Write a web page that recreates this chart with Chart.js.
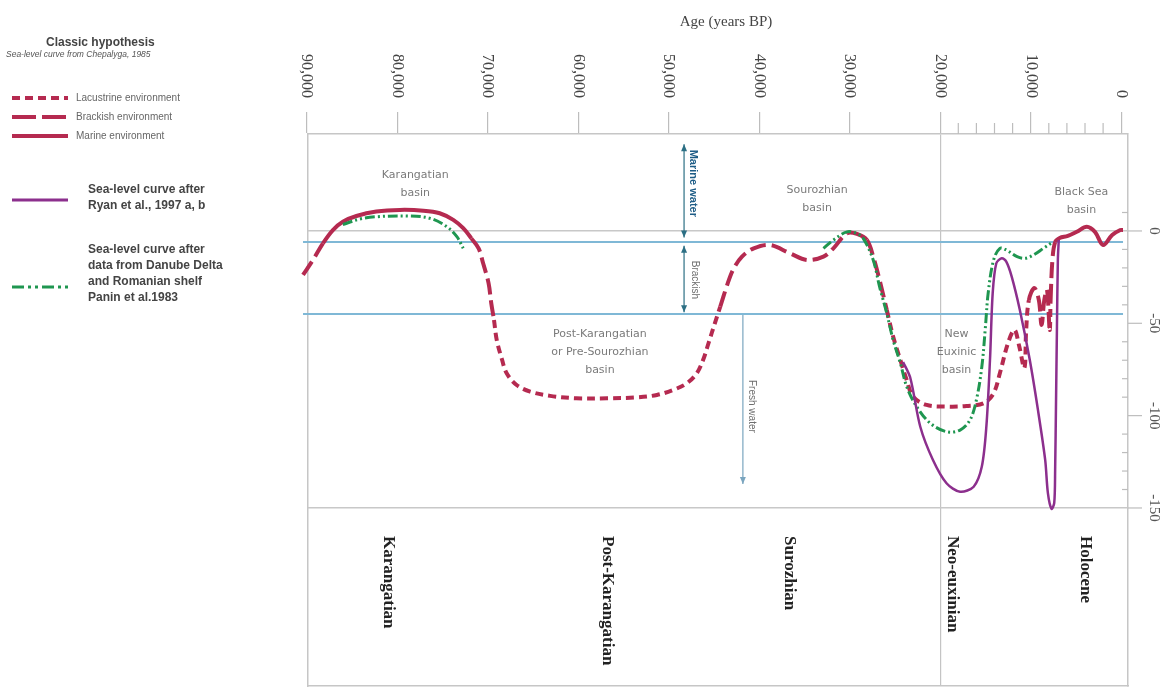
<!DOCTYPE html>
<html>
<head>
<meta charset="utf-8">
<title>Black Sea sea-level curves</title>
<script src="https://cdn.jsdelivr.net/npm/chart.js@4.4.1/dist/chart.umd.min.js"></script>
<style>
  html, body { margin: 0; padding: 0; background: #fff; }
  #wrap { position: relative; width: 1163px; height: 691px; overflow: hidden; }
  #chart { position: absolute; left: 0; top: 0; }
  #legend { position: absolute; left: 0; top: 0; width: 300px; height: 320px;
            font-family: "Liberation Sans", Arial, sans-serif; color: #555; }
  #legend div { position: absolute; white-space: nowrap; }
  #legend svg { position: absolute; left: 0; top: 0; }
  .lg-title { font-weight: bold; font-size: 12px; color: #444; }
  .lg-sub { font-style: italic; font-size: 8.5px; color: #555; }
  .lg-env { font-size: 10px; color: #666; }
  .lg-big { font-weight: bold; font-size: 12px; color: #444; line-height: 16px; }
</style>
</head>
<body>
<div id="wrap">
  <canvas id="chart" width="1163" height="691"></canvas>
  <div id="legend">
    <svg width="80" height="320">
      <line x1="12" y1="98" x2="68" y2="98" stroke="#b52a50" stroke-width="4" stroke-dasharray="8 5"/>
      <line x1="12" y1="117" x2="68" y2="117" stroke="#b52a50" stroke-width="4" stroke-dasharray="24 6"/>
      <line x1="12" y1="136" x2="68" y2="136" stroke="#b52a50" stroke-width="4"/>
      <line x1="12" y1="200" x2="68" y2="200" stroke="#8c2f8d" stroke-width="3"/>
      <line x1="12" y1="287" x2="68" y2="287" stroke="#1f9650" stroke-width="3" stroke-dasharray="12 4 3 4 3 4"/>
    </svg>
    <div class="lg-title" style="left:46px;top:35px">Classic hypothesis</div>
    <div class="lg-sub" style="left:6px;top:49px">Sea-level curve from Chepalyga, 1985</div>
    <div class="lg-env" style="left:76px;top:92px">Lacustrine environment</div>
    <div class="lg-env" style="left:76px;top:111px">Brackish environment</div>
    <div class="lg-env" style="left:76px;top:130px">Marine environment</div>
    <div class="lg-big" style="left:88px;top:181px">Sea-level curve after<br>Ryan et al., 1997 a, b</div>
    <div class="lg-big" style="left:88px;top:241px">Sea-level curve after<br>data from Danube Delta<br>and Romanian shelf<br>Panin et al.1983</div>
  </div>
</div>
<script>
// ---- data (age in years BP, level in metres) ----
const chepalygaAge = [90400, 89300, 88200, 87100, 86000, 84500, 82300, 79700, 77100, 75300,
  73800, 72700, 71800, 71000, 70500, 69900, 69600, 69300, 69000, 68400,
  67900, 66800, 65300, 63100, 60200, 56800, 53500, 51300, 49500, 48000,
  46900, 46200, 45600, 44900, 44300, 43600, 42900, 41900, 40600, 38800,
  36600, 34700, 32900, 31800, 30300, 29200, 28100, 27400, 26700, 25900,
  25200, 24400, 23700, 23000, 21500, 19300, 17100, 15200, 14100, 13400,
  12500, 11800, 11300, 10700, 10500, 10200, 9600, 9100, 8800, 8500,
  8200, 7900, 7800, 7600, 7300, 6800, 5900, 4900, 3800, 2900,
  2000, 1000, 100, -200];
const chepalygaLevel = [-23.8, -15.7, -6.7, 0.5, 5.0, 8.1, 10.5, 11.4, 11.0, 9.6,
  6.0, 1.5, -4.0, -9.4, -17.5, -28.3, -39.2, -48.2, -59.0, -69.9,
  -77.1, -83.4, -87.0, -89.3, -90.6, -90.6, -90.1, -88.8, -86.1, -82.5,
  -77.1, -69.9, -60.8, -50.0, -41.0, -30.2, -21.1, -13.9, -9.4, -7.6,
  -12.1, -15.7, -13.9, -9.4, -1.2, -1.6, -4.9, -13.9, -26.5, -42.8,
  -57.2, -69.9, -80.7, -89.7, -94.2, -95.1, -94.8, -93.3, -87.9, -76.9,
  -60.6, -53.6, -61.7, -74.2, -53.6, -37.4, -30.9, -37.4, -50.9, -37.4,
  -31.9, -53.6, -37.4, -15.7, -6.0, -3.8, -2.7, -0.4, 2.3, -0.5,
  -7.6, -2.2, 0.5, 0.5];

const ryanAge = [24100, 23300, 22200, 20800, 19300, 17800, 16300, 15400, 14900, 14500,
  14200, 13800, 13200, 12700, 12100, 11200, 10100, 9200, 8400, 8100,
  7700, 7400, 7300, 7200, 7100, 7000, 6900];
const ryanLevel = [-70.9, -79.6, -106.0, -124.0, -136.6, -141.2, -138.5, -127.6, -106.0, -69.9,
  -33.7, -17.5, -14.8, -16.6, -24.7, -42.8, -69.9, -96.9, -124.0, -142.0,
  -150.5, -147.3, -129.4, -91.5, -51.8, -15.7, -4.9];

const paninOldAge = [86000, 84100, 82300, 78900, 76400, 74500, 73400, 72700];
const paninOldLevel = [3.5, 6.5, 7.7, 8.1, 6.9, 2.3, -3.1, -9.4];
const paninYoungAge = [32900, 31800, 30300, 29200, 28500, 27400, 26700, 25900, 25200, 24400,
  23700, 22600, 21100, 19300, 17800, 16700, 16000, 15400, 15000, 14700,
  14100, 13400, 12700, 11500, 10600, 9700, 8600, 7500];
const paninYoungLevel = [-9.4, -4.9, -0.5, -1.4, -4.0, -15.7, -30.2, -44.6, -59.0, -71.6,
  -84.3, -95.1, -104.1, -108.7, -107.8, -102.3, -91.5, -73.5, -51.8, -33.7,
  -15.7, -9.4, -10.3, -13.9, -14.8, -13.0, -9.4, -5.8];

const boundaryLevels = [-6, -45];
const boundarySpan = [90400, -200];

const topTicks = [90000, 80000, 70000, 60000, 50000, 40000, 30000, 20000, 10000, 0];
const topMinorTicks = [18000, 16000, 14000, 12000, 8000, 6000, 4000, 2000];
const levelTicks = [0, -50, -100, -150];
const levelMinorTicks = [10, -10, -20, -30, -40, -60, -70, -80, -90, -110, -120, -130, -140];

const stages = ["Karangatian", "Post-Karangatian", "Surozhian", "Neo-euxinian", "Holocene"];
const stageAges = [81000, 56800, 36700, 18700, 4000];

// ---- styling ----
const RED = "#b52a50";
const PURPLE = "#8c2f8d";
const GREEN = "#1f9650";
const BLUE = "#7fb8d6";
const FRAME = "#c6c6c6";

const X_MIN = -750, X_MAX = 89850;
const Y_MIN = -246.4, Y_MAX = 52.5;

const toPoints = (xs, ys) => xs.map((x, i) => ({ x, y: ys[i] }));

// environment of the Chepalyga curve follows the water level
function envDash(ctx) {
    const m = (ctx.p0.parsed.y + ctx.p1.parsed.y) / 2;
    if (m > -5) return [];          // marine
    if (m > -45) return [16, 6];    // brackish
    return [8, 5];                  // lacustrine
}

function vArrow(ctx, x, y1, y2, headTop, headBottom, color) {
    ctx.strokeStyle = color;
    ctx.fillStyle = color;
    ctx.lineWidth = 1.2;
    ctx.beginPath();
    ctx.moveTo(x, y1);
    ctx.lineTo(x, y2);
    ctx.stroke();
    const head = (y, dir) => {
        ctx.beginPath();
        ctx.moveTo(x, y);
        ctx.lineTo(x - 3, y - dir * 7);
        ctx.lineTo(x + 3, y - dir * 7);
        ctx.closePath();
        ctx.fill();
    };
    if (headTop) head(y1, -1);
    if (headBottom) head(y2, 1);
}

function rotText(ctx, text, x, y, align) {
    ctx.save();
    ctx.translate(x, y);
    ctx.rotate(Math.PI / 2);
    ctx.textAlign = align;
    ctx.textBaseline = "middle";
    ctx.fillText(text, 0, 0);
    ctx.restore();
}

const basinLabels = [
    { lines: ["Karangatian", "basin"], age: 78000, level: 30 },
    { lines: ["Post-Karangatian", "or Pre-Sourozhian", "basin"], age: 57600, level: -56 },
    { lines: ["Sourozhian", "basin"], age: 33600, level: 22 },
    { lines: ["New", "Euxinic", "basin"], age: 18200, level: -56 },
    { lines: ["Black Sea", "basin"], age: 4400, level: 21 }
];

const decor = {
    id: "decor",
    beforeDatasetsDraw(chart) {
        const { ctx, scales: { x, y } } = chart;
        ctx.save();
        // basin names
        ctx.fillStyle = "#7a7a7a";
        ctx.font = '11px "DejaVu Sans"';
        ctx.textAlign = "center";
        ctx.textBaseline = "middle";
        basinLabels.forEach(b => {
            const px = x.getPixelForValue(b.age);
            const py = y.getPixelForValue(b.level);
            b.lines.forEach((t, i) => ctx.fillText(t, px, py + i * 18));
        });
        // water-type arrows
        const ax = x.getPixelForValue(48300);
        vArrow(ctx, ax, y.getPixelForValue(47), y.getPixelForValue(-3.5), true, true, "#2c6f84");
        vArrow(ctx, ax, y.getPixelForValue(-8), y.getPixelForValue(-44), true, true, "#2c6f84");
        vArrow(ctx, x.getPixelForValue(41800), y.getPixelForValue(-45), y.getPixelForValue(-137), false, true, "#7aa5bf");
        ctx.fillStyle = "#1d5c86";
        ctx.font = 'bold 11px "Liberation Sans"';
        rotText(ctx, "Marine water", x.getPixelForValue(47300), y.getPixelForValue(44), "left");
        ctx.fillStyle = "#6d6d6d";
        ctx.font = '10px "Liberation Sans"';
        rotText(ctx, "Brackish", x.getPixelForValue(47100), y.getPixelForValue(-26.5), "center");
        rotText(ctx, "Fresh water", x.getPixelForValue(40800), y.getPixelForValue(-95), "center");
        ctx.restore();
    },
    afterDraw(chart) {
        const { ctx, scales: { x, y } } = chart;
        ctx.save();
        // age axis
        ctx.fillStyle = "#444";
        ctx.font = '15px "Liberation Serif"';
        ctx.textAlign = "center";
        ctx.textBaseline = "middle";
        ctx.fillText("Age (years BP)", 726, 22);
        ctx.font = '16px "Liberation Serif"';
        topTicks.forEach(v => {
            rotText(ctx, v.toLocaleString("en-US"), x.getPixelForValue(v), 98, "right");
        });
        ctx.strokeStyle = "#bdbdbd";
        ctx.lineWidth = 1.2;
        topMinorTicks.forEach(v => {
            const px = x.getPixelForValue(v);
            ctx.beginPath();
            ctx.moveTo(px, x.bottom);
            ctx.lineTo(px, x.bottom - 11);
            ctx.stroke();
        });
        // level axis
        const rx = y.left;
        levelMinorTicks.forEach(v => {
            const py = y.getPixelForValue(v);
            ctx.beginPath();
            ctx.moveTo(rx - 6, py);
            ctx.lineTo(rx, py);
            ctx.stroke();
        });
        ctx.fillStyle = "#555";
        ctx.font = '15px "Liberation Serif"';
        levelTicks.forEach(v => {
            const py = y.getPixelForValue(v);
            ctx.beginPath();
            ctx.moveTo(rx, py);
            ctx.lineTo(rx + 14, py);
            ctx.stroke();
            rotText(ctx, String(v), rx + 26, py, "center");
        });
        // stage names
        ctx.fillStyle = "#222";
        ctx.font = 'bold 17px "Liberation Serif"';
        stages.forEach((s, i) => {
            rotText(ctx, s, x.getPixelForValue(stageAges[i]), 536, "left");
        });
        ctx.restore();
    }
};

const lineBase = { pointRadius: 0, fill: false, clip: 14, xAxisID: "x", yAxisID: "y" };

const datasets = [
    ...boundaryLevels.map(lv => ({
        ...lineBase,
        label: "boundary " + lv,
        data: boundarySpan.map(a => ({ x: a, y: lv })),
        borderColor: BLUE,
        borderWidth: 2,
        order: 10
    })),
    {
        ...lineBase,
        label: "Chepalyga, 1985",
        data: toPoints(chepalygaAge, chepalygaLevel),
        borderColor: RED,
        borderWidth: 4,
        tension: 0.35,
        segment: { borderDash: envDash },
        order: 3
    },
    {
        ...lineBase,
        label: "Panin et al. 1983 (old)",
        data: toPoints(paninOldAge, paninOldLevel),
        borderColor: GREEN,
        borderWidth: 3,
        borderDash: [10, 3, 2, 3, 2, 3],
        tension: 0.35,
        order: 2
    },
    {
        ...lineBase,
        label: "Panin et al. 1983",
        data: toPoints(paninYoungAge, paninYoungLevel),
        borderColor: GREEN,
        borderWidth: 3,
        borderDash: [10, 3, 2, 3, 2, 3],
        tension: 0.35,
        order: 2
    },
    {
        ...lineBase,
        label: "Ryan et al., 1997",
        data: toPoints(ryanAge, ryanLevel),
        borderColor: PURPLE,
        borderWidth: 2.5,
        tension: 0.3,
        order: 1
    }
];

new Chart(document.getElementById("chart"), {
    type: "line",
    data: { datasets },
    plugins: [decor],
    options: {
        responsive: false,
        animation: false,
        layout: { padding: { left: 308, right: 0, top: 0, bottom: 0 } },
        plugins: { legend: { display: false }, tooltip: { enabled: false } },
        scales: {
            x: {
                type: "linear", position: "top", reverse: true, min: X_MIN, max: X_MAX,
                afterBuildTicks: s => { s.ticks = topTicks.map(v => ({ value: v })); },
                afterFit: s => { s.height = 134; },
                ticks: { display: false },
                grid: {
                    color: c => (c.tick && c.tick.value === 20000) ? "#c4c4c4" : "rgba(0,0,0,0)",
                    lineWidth: 1.2,
                    drawTicks: true,
                    tickLength: 22,
                    tickColor: "#bdbdbd",
                    tickWidth: 1.2
                },
                border: { display: true, color: FRAME, width: 1.5 }
            },
            xb: {
                type: "linear", position: "bottom", reverse: true, min: X_MIN, max: X_MAX,
                afterFit: s => { s.height = 5; },
                ticks: { display: false },
                grid: { display: false },
                border: { display: true, color: FRAME, width: 1.5 }
            },
            y: {
                type: "linear", position: "right", min: Y_MIN, max: Y_MAX,
                afterBuildTicks: s => { s.ticks = levelTicks.map(v => ({ value: v })); },
                afterFit: s => { s.width = 35; },
                ticks: { display: false },
                grid: {
                    color: c => (c.tick && (c.tick.value === 0 || c.tick.value === -150)) ? "#c8c8c8" : "rgba(0,0,0,0)",
                    lineWidth: 1.5,
                    drawTicks: false
                },
                border: { display: true, color: FRAME, width: 1.5 }
            },
            yl: {
                type: "linear", position: "left", min: Y_MIN, max: Y_MAX,
                afterFit: s => { s.width = 0; },
                ticks: { display: false },
                grid: { display: false },
                border: { display: true, color: FRAME, width: 1.5 }
            }
        }
    }
});
</script>
</body>
</html>
